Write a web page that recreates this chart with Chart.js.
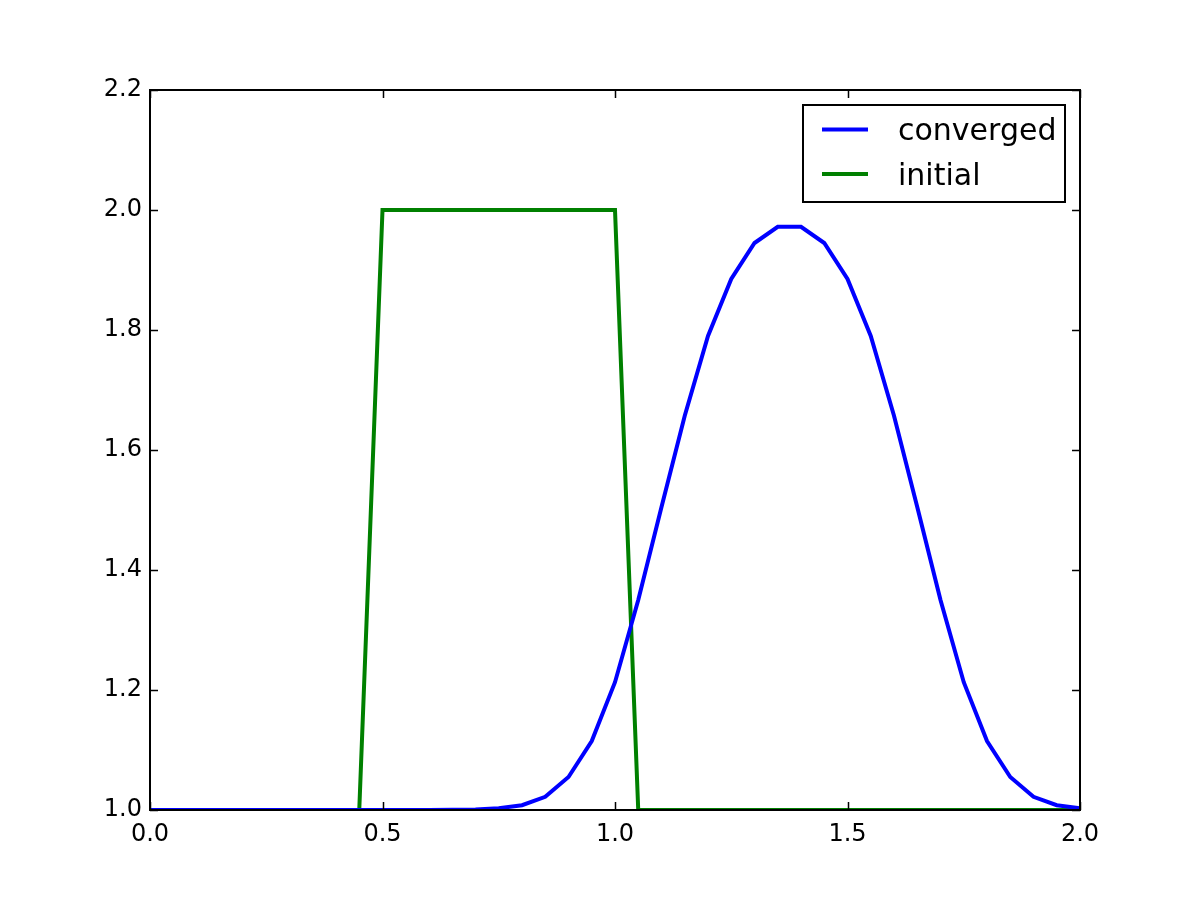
<!DOCTYPE html>
<html>
<head>
<meta charset="utf-8">
<script src="https://cdn.jsdelivr.net/npm/chart.js@4"></script>
<style>
  body { margin: 0; background: #fff; }
  #wrap { width: 1200px; height: 900px; }
</style>
</head>
<body>
<div id="wrap"><canvas id="myChart" width="1200" height="900"></canvas></div>
<script>
// grid x values (step 0.05)
const xValues = [
    0.00, 0.05, 0.10, 0.15, 0.20, 0.25, 0.30, 0.35, 0.40, 0.45,
    0.50, 0.55, 0.60, 0.65, 0.70, 0.75, 0.80, 0.85, 0.90, 0.95,
    1.00, 1.05, 1.10, 1.15, 1.20, 1.25, 1.30, 1.35, 1.40, 1.45,
    1.50, 1.55, 1.60, 1.65, 1.70, 1.75, 1.80, 1.85, 1.90, 1.95, 2.00
];
const convergedValues = [
    1.000, 1.000, 1.000, 1.000, 1.000, 1.000, 1.000, 1.000, 1.000, 1.000,
    1.000, 1.000, 1.000, 1.0003, 1.001, 1.003, 1.008, 1.022, 1.055, 1.115,
    1.213, 1.350, 1.505, 1.657, 1.790, 1.885, 1.945, 1.972, 1.972, 1.945,
    1.885, 1.790, 1.657, 1.505, 1.350, 1.213, 1.115, 1.055, 1.022, 1.008, 1.003
];
const initialValues = [
    1, 1, 1, 1, 1, 1, 1, 1, 1, 1,
    2, 2, 2, 2, 2, 2, 2, 2, 2, 2,
    2, 1, 1, 1, 1, 1, 1, 1, 1, 1,
    1, 1, 1, 1, 1, 1, 1, 1, 1, 1, 1
];
const xTicks = [0.0, 0.5, 1.0, 1.5, 2.0];
const yTicks = [1.0, 1.2, 1.4, 1.6, 1.8, 2.0, 2.2];

const tickFont = { family: 'DejaVu Sans', size: 24 };

// frame and inward ticks on all four sides, like matplotlib
const framePlugin = {
    id: 'frame',
    afterDatasetsDraw(chart) {
        const ctx = chart.ctx;
        const a = chart.chartArea;
        const xs = chart.scales.x, ys = chart.scales.y;
        const len = 8;
        ctx.save();
        ctx.strokeStyle = '#000';
        ctx.lineWidth = 1.5;
        ctx.beginPath();
        xs.ticks.forEach(t => {
            const px = Math.round(xs.getPixelForValue(t.value)) + 0.5;
            ctx.moveTo(px, a.bottom); ctx.lineTo(px, a.bottom - len);
            ctx.moveTo(px, a.top); ctx.lineTo(px, a.top + len);
        });
        ys.ticks.forEach(t => {
            const py = Math.round(ys.getPixelForValue(t.value)) + 0.5;
            ctx.moveTo(a.left, py); ctx.lineTo(a.left + len, py);
            ctx.moveTo(a.right, py); ctx.lineTo(a.right - len, py);
        });
        ctx.stroke();
        ctx.lineWidth = 2;
        ctx.strokeRect(a.left, a.top, a.right - a.left, a.bottom - a.top);
        ctx.restore();
    }
};

// legend box inside the axes, upper right
const legendPlugin = {
    id: 'boxLegend',
    afterDraw(chart) {
        const ctx = chart.ctx;
        const bx = 803, by = 105, bw = 262, bh = 97;
        ctx.save();
        ctx.fillStyle = '#fff';
        ctx.fillRect(bx, by, bw, bh);
        ctx.strokeStyle = '#000';
        ctx.lineWidth = 2;
        ctx.strokeRect(bx, by, bw, bh);
        ctx.font = '30px "DejaVu Sans"';
        ctx.textBaseline = 'middle';
        chart.data.datasets.forEach((ds, i) => {
            const y = 129.5 + i * 44.5;
            ctx.strokeStyle = ds.borderColor;
            ctx.lineWidth = ds.borderWidth;
            ctx.beginPath();
            ctx.moveTo(822, y);
            ctx.lineTo(868, y);
            ctx.stroke();
            ctx.fillStyle = '#000';
            ctx.fillText(ds.label, 898, y + 3);
        });
        ctx.restore();
    }
};

const ctx = document.getElementById('myChart').getContext('2d');
const chart = new Chart(ctx, {
    type: 'line',
    data: {
        datasets: [{
            label: 'converged',
            data: xValues.map((x, i) => ({ x: x, y: convergedValues[i] })),
            borderColor: '#0000ff',
            borderWidth: 4,
            pointRadius: 0,
            tension: 0,
            fill: false
        }, {
            label: 'initial',
            data: xValues.map((x, i) => ({ x: x, y: initialValues[i] })),
            borderColor: '#008000',
            borderWidth: 4,
            pointRadius: 0,
            tension: 0,
            fill: false
        }]
    },
    options: {
        responsive: false,
        animation: false,
        devicePixelRatio: 1,
        layout: { padding: { top: 90, right: 120, left: 0, bottom: 0 } },
        plugins: {
            legend: { display: false },
            tooltip: { enabled: false }
        },
        scales: {
            x: {
                type: 'linear',
                min: 0,
                max: 2,
                afterFit: s => { s.height = 90; },
                afterBuildTicks: s => { s.ticks = xTicks.map(v => ({ value: v })); },
                grid: { display: false, drawTicks: false },
                border: { display: false },
                ticks: {
                    color: '#000',
                    font: tickFont,
                    padding: 10,
                    maxRotation: 0,
                    autoSkip: false,
                    callback: v => Number(v).toFixed(1)
                }
            },
            y: {
                type: 'linear',
                min: 1,
                max: 2.2,
                afterFit: s => { s.width = 150; },
                afterBuildTicks: s => { s.ticks = yTicks.map(v => ({ value: v })); },
                grid: { display: false, drawTicks: false },
                border: { display: false },
                ticks: {
                    color: '#000',
                    font: tickFont,
                    padding: 8,
                    autoSkip: false,
                    callback: v => Number(v).toFixed(1)
                }
            }
        }
    },
    plugins: [framePlugin, legendPlugin]
});
</script>
</body>
</html>
